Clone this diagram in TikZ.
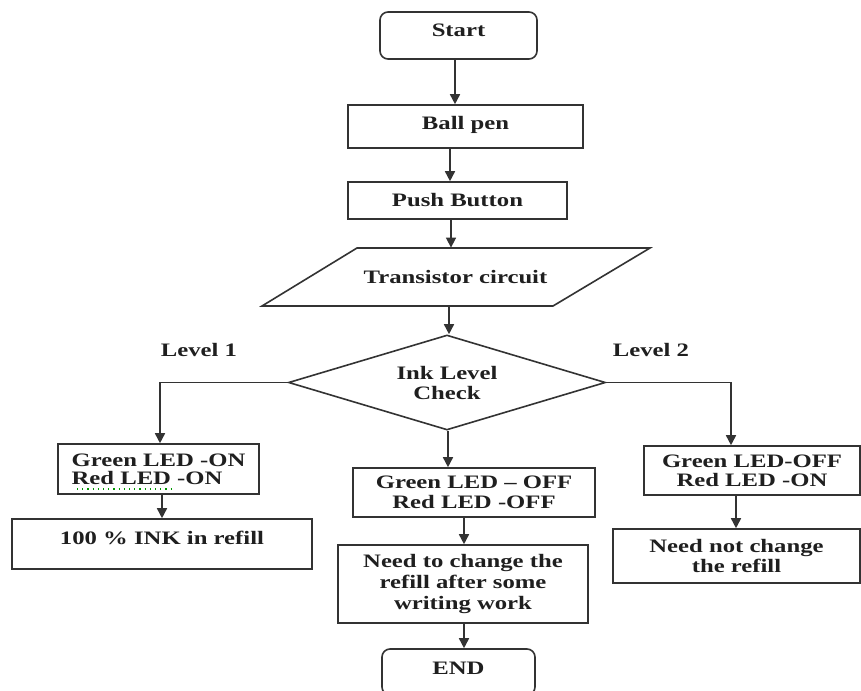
\documentclass[tikz,border=0pt]{standalone}
\usepackage{fontspec}
\setmainfont{Liberation Serif}[FakeStretch=1.3]
\usetikzlibrary{shapes.geometric,arrows.meta}
\begin{document}
\begin{tikzpicture}[x=0.5pt,y=-0.5pt,
  every node/.style={font=\fontsize{9.5}{10}\selectfont\bfseries, text=black!88, align=center, inner sep=0pt},
  box/.style={draw=black!80, line width=0.8pt, rectangle},
  term/.style={box, rounded corners=4pt},
  arr/.style={draw=black!80, line width=0.8pt, -{Triangle[length=5pt,width=5pt]}},
  link/.style={draw=black!80, line width=0.8pt},
  lbl/.style={}]
\clip (0,0) rectangle (861,690);
\fill[white] (0,0) rectangle (861,690);

% arrow lanes
\coordinate (c455) at (455,0);
\coordinate (c450) at (450,0);
\coordinate (c451) at (451,0);
\coordinate (c449) at (449,0);
\coordinate (c448) at (448,0);
\coordinate (c464) at (464,0);
\coordinate (c162) at (162,0);
\coordinate (c160) at (160,0);
\coordinate (c731) at (731,0);
\coordinate (c736) at (736,0);

\node[term, minimum width=78.5pt, minimum height=23.5pt, text height=6.5pt, text depth=5.5pt] (start) at (458.5,35.5) {Start};
\node[box, minimum width=117.5pt, minimum height=21.5pt, text height=6.5pt, text depth=3.5pt] (ball) at (465.5,126.5) {Ball pen};
\node[box, minimum width=109.5pt, minimum height=18.5pt] (push) at (457.5,200.5) {Push Button};

% parallelogram
\coordinate (p1) at (357,248);
\coordinate (p2) at (650,248);
\coordinate (p3) at (553,306);
\coordinate (p4) at (262,306);
\draw[link] (p1) -- (p2) -- (p3) -- (p4) -- cycle;
\node[minimum height=29pt, minimum width=100pt] (trans) at (455.5,277) {Transistor circuit};

\node[diamond, draw=black!80, line width=0.8pt, minimum width=158.5pt, minimum height=47.5pt, aspect=3.3] (dia) at (447,382.5) {Ink Level\\Check};

\node[lbl] (lv1) at (199,350) {Level 1};
\node[lbl] (lv2) at (651,350) {Level 2};

\node[box, minimum width=100.5pt, minimum height=25pt, align=left, font=\fontsize{9.5}{9.2}\selectfont\bfseries] (l1) at (158.5,469) {Green LED -ON\\Red LED -ON};
\draw[green!60!black, dotted, line width=0.6pt] (77,489) -- (174,489);
\node[box, minimum width=150pt, minimum height=25pt, text height=6.5pt, text depth=6pt] (l1b) at (162,544) {100 \% INK in refill};

\node[box, minimum width=121pt, minimum height=24.5pt] (m1) at (474,492.5) {Green LED – OFF\\Red LED -OFF};
\node[box, minimum width=125pt, minimum height=39pt, font=\fontsize{9.5}{10.5}\selectfont\bfseries] (m2) at (463,584) {Need to change the\\refill after some\\writing work};
\node[term, minimum width=76.5pt, minimum height=23pt, text height=6.5pt, text depth=4.5pt] (end) at (458.5,672) {END};

\node[box, minimum width=108pt, minimum height=24.5pt, font=\fontsize{9.5}{9.5}\selectfont\bfseries] (r1) at (752,470.5) {Green LED-OFF\\Red LED -ON};
\node[box, minimum width=123.5pt, minimum height=27pt] (r2) at (736.5,556) {Need not change\\the refill};

% connectors
\draw[arr] (start.south -| c455) -- (ball.north -| c455);
\draw[arr] (ball.south -| c450) -- (push.north -| c450);
\draw[arr] (push.south -| c451) -- (trans.north -| c451);
\draw[arr] (trans.south -| c449) -- (dia.north -| c449);
\draw[arr] (dia.south -| c448) -- (m1.north -| c448);
\draw[arr] (m1.south -| c464) -- (m2.north -| c464);
\draw[arr] (m2.south -| c464) -- (end.north -| c464);
\draw[arr] (dia.west) -| (l1.north -| c160);
\draw[arr] (l1.south -| c162) -- (l1b.north -| c162);
\draw[arr] (dia.east) -| (r1.north -| c731);
\draw[arr] (r1.south -| c736) -- (r2.north -| c736);
\end{tikzpicture}
\end{document}
